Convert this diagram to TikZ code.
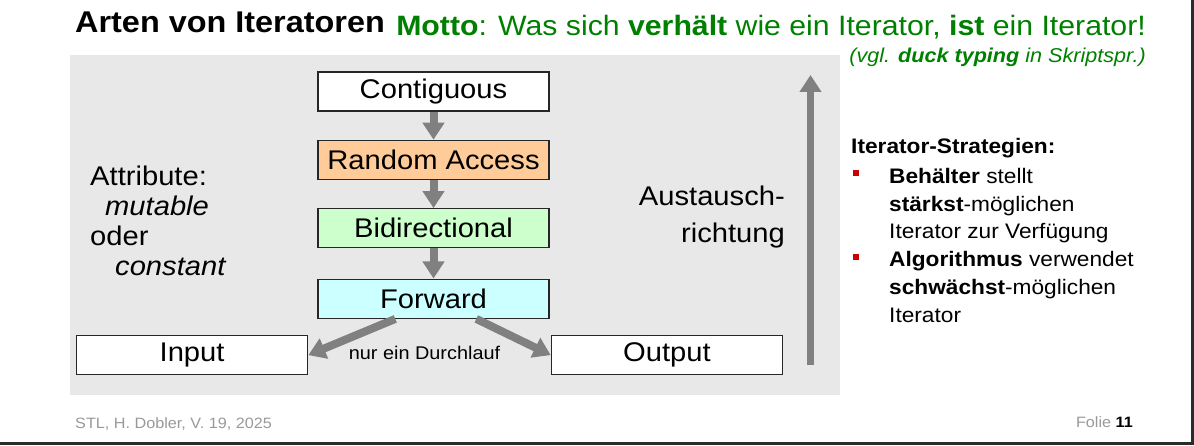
\documentclass[tikz,border=0pt]{standalone}
\usepackage{fontspec}
\setmainfont{Liberation Sans}[FakeStretch=1.08]
\usetikzlibrary{positioning,arrows.meta}
\definecolor{slidegreen}{RGB}{0,128,0}
\definecolor{panelgray}{RGB}{232,232,232}
\definecolor{arrgray}{RGB}{128,128,128}
\definecolor{raFill}{RGB}{255,204,153}
\definecolor{biFill}{RGB}{204,255,204}
\definecolor{fwFill}{RGB}{204,255,255}
\definecolor{bulred}{RGB}{204,0,0}
\definecolor{edgegray}{RGB}{43,43,43}

\begin{document}
\begin{tikzpicture}[
  x=1pt, y=1pt,
  every node/.style={inner sep=0pt},
  itbox/.style={draw=black!85, line width=1.4pt, minimum width=231pt, minimum height=39pt,
    font=\fontsize{27}{30}\selectfont},
  arr/.style={-{Triangle[width=21pt,length=17pt]}, line width=8pt, arrgray},
  bul/.style={fill=bulred, minimum size=6pt},
  node distance=28pt
]
\useasboundingbox (0,0) rectangle (1194,445);
\fill[edgegray] (1191,0) rectangle (1194,445);
\fill[edgegray] (0,0) rectangle (1194,3);
\fill[panelgray] (70,50) rectangle (840,390);

\node[anchor=base west, font=\fontsize{30}{32}\selectfont\bfseries] (title) at (75,412) {Arten von Iteratoren};
\node[anchor=base east, text=slidegreen, font=\fontsize{28}{30}\selectfont] (motto) at (1146,409)
  {\textbf{Motto}: Was sich \textbf{verhält} wie ein Iterator, \textbf{ist} ein Iterator!};
\node[anchor=base east, text=slidegreen, font=\fontsize{20}{22}\selectfont\itshape] (duck) at (1146,382)
  {(vgl. \textbf{duck typing} in Skriptspr.)};

\node[itbox, fill=white] (contig) at (433.5,353.5) {Contiguous};
\node[itbox, fill=raFill, below=of contig] (randAcc) {Random Access};
\node[itbox, fill=biFill, below=of randAcc] (bidir) {Bidirectional};
\node[itbox, fill=fwFill, below=30pt of bidir] (fwd) {Forward};
\node[itbox, fill=white, below left=16pt and 9pt of fwd] (inp) {Input};
\node[itbox, fill=white, below right=16pt and 1pt of fwd] (outp) {Output};

\draw[arr] (contig) -- (randAcc);
\draw[arr] (randAcc) -- (bidir);
\draw[arr] (bidir) -- (fwd);
\draw[arr] ([xshift=78pt]fwd.south west) -- (inp.east);
\draw[arr] ([xshift=159pt]fwd.south west) -- (outp.west);

\node[anchor=base, font=\fontsize{18.4}{20}\selectfont] (once) at (424.5,86) {nur ein Durchlauf};

\node[anchor=base west, align=left, font=\fontsize{27}{30}\selectfont] (attr) at (90,170)
  {Attribute:\\\hspace*{15pt}\textit{mutable}\\oder\\\hspace*{25pt}\textit{constant}};

\node[anchor=base east, align=right, font=\fontsize{27}{37}\selectfont] (dir) at (785,203)
  {Austausch-\\richtung};
\coordinate (dirLow) at (810.5,80);
\coordinate (dirHigh) at (810.5,370);
\draw[arr, line width=7pt] (dirLow) -- (dirHigh);

\node[anchor=base west, font=\fontsize{21}{27.8}\selectfont\bfseries] (strat) at (851,291) {Iterator-Strategien:};
\node[bul] (bulA) at (856,272) {};
\node[bul] (bulB) at (856,188) {};
\node[anchor=base west, align=left, font=\fontsize{21}{27.8}\selectfont] (stratA) at (889,206)
  {\textbf{Behälter} stellt\\\textbf{stärkst}-möglichen\\Iterator zur Verfügung};
\node[anchor=base west, align=left, font=\fontsize{21}{27.8}\selectfont] (stratB) at (889,123)
  {\textbf{Algorithmus} verwendet\\\textbf{schwächst}-möglichen\\Iterator};

\node[anchor=base west, text=black!40, font=\fontsize{15}{17}\selectfont] (foot) at (75,17) {STL, H. Dobler, V. 19, 2025};
\node[anchor=base east, font=\fontsize{15}{17}\selectfont] (folie) at (1133,18) {\textcolor{black!40}{Folie} \textbf{11}};
\end{tikzpicture}
\end{document}
